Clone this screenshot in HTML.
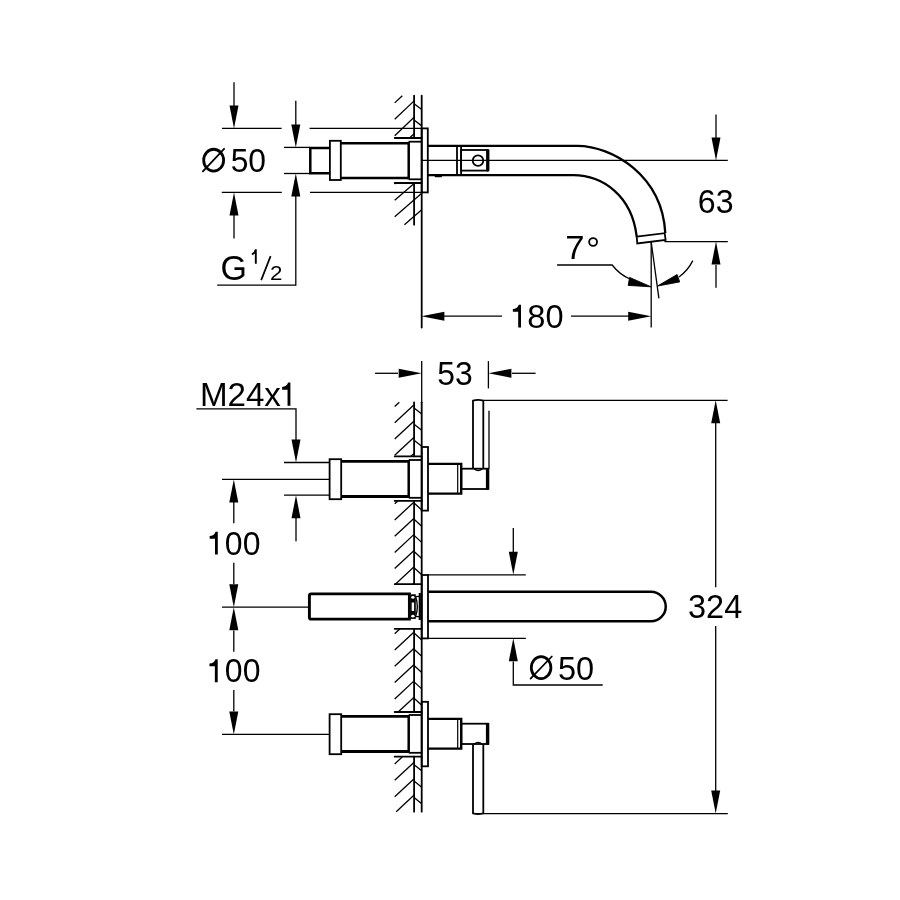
<!DOCTYPE html>
<html><head><meta charset="utf-8"><style>
html,body{margin:0;padding:0;background:#fff;}
svg{display:block;will-change:transform;}
text{font-family:"Liberation Sans",sans-serif;fill:#000;stroke:none;}
</style></head><body>
<svg width="900" height="900" viewBox="0 0 900 900" stroke="#000" stroke-linejoin="miter">
<rect x="0" y="0" width="900" height="900" fill="#fff" stroke="none"/>
<g>
<line x1="414.1" y1="95.7" x2="414.1" y2="138" stroke-width="1.8" stroke-linecap="round"/>
<line x1="414.1" y1="183" x2="414.1" y2="224.7" stroke-width="1.8" stroke-linecap="round"/>
<line x1="421.7" y1="95.7" x2="421.7" y2="327.6" stroke-width="1.8" stroke-linecap="round"/>
<line x1="394.7" y1="138" x2="421.7" y2="138" stroke-width="1.8" stroke-linecap="round"/>
<line x1="394.7" y1="183" x2="421.7" y2="183" stroke-width="1.8" stroke-linecap="round"/>
<line x1="394.7" y1="102.9" x2="402.28" y2="95.7" stroke-width="1.3" stroke-linecap="butt"/>
<line x1="394.7" y1="119.3" x2="414.1" y2="100.87" stroke-width="1.3" stroke-linecap="butt"/>
<line x1="414.1" y1="103.67" x2="421.7" y2="109.47" stroke-width="1.3" stroke-linecap="butt"/>
<line x1="394.7" y1="135.7" x2="414.1" y2="117.27" stroke-width="1.3" stroke-linecap="butt"/>
<line x1="414.1" y1="120.07" x2="421.7" y2="125.87" stroke-width="1.3" stroke-linecap="butt"/>
<line x1="409.54" y1="138.0" x2="414.1" y2="133.67" stroke-width="1.3" stroke-linecap="butt"/>
<line x1="394.7" y1="183.9" x2="395.74" y2="183.0" stroke-width="1.3" stroke-linecap="butt"/>
<line x1="394.7" y1="200.3" x2="414.7" y2="183.0" stroke-width="1.3" stroke-linecap="butt"/>
<line x1="394.7" y1="216.7" x2="421.7" y2="193.35" stroke-width="1.3" stroke-linecap="butt"/>
<line x1="404.41" y1="224.7" x2="421.7" y2="209.75" stroke-width="1.3" stroke-linecap="butt"/>
<rect x="421.7" y="128.4" width="6.100000000000023" height="64.0" stroke-width="1.8" fill="none"/>
<line x1="222" y1="128.4" x2="281.6" y2="128.4" stroke-width="1.3" stroke-linecap="butt"/>
<line x1="309.6" y1="128.4" x2="421.7" y2="128.4" stroke-width="1.3" stroke-linecap="butt"/>
<line x1="221.8" y1="192.4" x2="281.8" y2="192.4" stroke-width="1.3" stroke-linecap="butt"/>
<line x1="310" y1="192.4" x2="421.7" y2="192.4" stroke-width="1.3" stroke-linecap="butt"/>
<line x1="284" y1="147.4" x2="310" y2="147.4" stroke-width="1.3" stroke-linecap="butt"/>
<line x1="284" y1="173.5" x2="310" y2="173.5" stroke-width="1.3" stroke-linecap="butt"/>
<line x1="234" y1="82.3" x2="234" y2="106" stroke-width="1.3" stroke-linecap="butt"/>
<polygon points="234,128.4 229.5,105.4 238.5,105.4" stroke="none" fill="#000"/>
<line x1="234" y1="215" x2="234" y2="238.6" stroke-width="1.3" stroke-linecap="butt"/>
<polygon points="234,192.4 229.5,215.4 238.5,215.4" stroke="none" fill="#000"/>
<line x1="295.8" y1="100.7" x2="295.8" y2="125" stroke-width="1.3" stroke-linecap="butt"/>
<polygon points="295.8,147.4 291.3,124.4 300.3,124.4" stroke="none" fill="#000"/>
<path d="M295.8,196 V285.2 H217.2" stroke-width="1.3" fill="none" />
<polygon points="295.8,173.5 291.3,196.5 300.3,196.5" stroke="none" fill="#000"/>
<path d="M329.9,147.9 H310.3 V173.3 H329.9" stroke-width="2.5" fill="none" stroke-linejoin="miter"/>
<rect x="329.9" y="140.8" width="10.900000000000034" height="39.19999999999999" stroke-width="1.8" fill="none"/>
<line x1="340.8" y1="143.3" x2="408.7" y2="143.3" stroke-width="2.5" stroke-linecap="butt"/>
<line x1="340.8" y1="178" x2="408.7" y2="178" stroke-width="2.5" stroke-linecap="butt"/>
<line x1="408.7" y1="141.7" x2="408.7" y2="179.3" stroke-width="2.5" stroke-linecap="butt"/>
<line x1="408.7" y1="141.7" x2="421.7" y2="141.7" stroke-width="1.8" stroke-linecap="butt"/>
<line x1="408.7" y1="179.3" x2="421.7" y2="179.3" stroke-width="1.8" stroke-linecap="butt"/>
<path d="M427.8,145.9 H577.3 C612,146 662,175 665.3,233" stroke-width="2.3" fill="none" />
<path d="M427.8,175.1 H573.3 C602,175.2 632,195 636.7,236.7" stroke-width="2.3" fill="none" />
<line x1="422" y1="160.4" x2="727.8" y2="160.4" stroke-width="1.3" stroke-linecap="butt"/>
<rect x="434.6" y="175.4" width="7.4" height="1.8" rx="0.9" fill="#000" stroke="none"/>
<line x1="457" y1="146" x2="457" y2="175.2" stroke-width="1.8" stroke-linecap="butt"/>
<line x1="461.1" y1="146" x2="461.1" y2="175.2" stroke-width="1.8" stroke-linecap="butt"/>
<rect x="461.1" y="150" width="26.299999999999955" height="20.599999999999994" stroke-width="1.8" fill="none"/>
<rect x="486.2" y="149.2" width="3.2" height="22.2" rx="0.8" fill="#000" stroke="none"/>
<circle cx="478" cy="160.6" r="5.3" stroke-width="1.8" fill="none"/>
<path d="M636.7,236.7 L664.7,233.2 L665.6,240 L637.3,243.5 Z" stroke-width="1.8" fill="none" />
<line x1="716" y1="114.4" x2="716" y2="138" stroke-width="1.3" stroke-linecap="butt"/>
<polygon points="716,160.4 711.5,137.4 720.5,137.4" stroke="none" fill="#000"/>
<line x1="664.4" y1="241.6" x2="727.8" y2="241.6" stroke-width="1.3" stroke-linecap="butt"/>
<line x1="716" y1="265" x2="716" y2="287.8" stroke-width="1.3" stroke-linecap="butt"/>
<polygon points="716,241.6 711.5,264.6 720.5,264.6" stroke="none" fill="#000"/>
<line x1="651.2" y1="242" x2="651.2" y2="327.6" stroke-width="1.3" stroke-linecap="butt"/>
<line x1="651.2" y1="242" x2="658.9" y2="298.3" stroke-width="1.3" stroke-linecap="butt"/>
<path d="M557.1,265 H612.2 A45,45 0 0 0 630,279" stroke-width="1.3" fill="none" />
<polygon points="651,286.8 629.6,277.4 628.2,285.4" stroke-width="0.9" stroke-linejoin="round" fill="#000"/>
<path d="M692.8,260.6 A45,45 0 0 1 679,277" stroke-width="1.3" fill="none" />
<polygon points="657.4,286.1 677.1,274.5 679.7,281.9" stroke-width="0.9" stroke-linejoin="round" fill="#000"/>
<circle cx="593.1" cy="242" r="3.95" stroke-width="1.8" fill="none"/>
<line x1="444" y1="316.2" x2="502" y2="316.2" stroke-width="1.3" stroke-linecap="butt"/>
<polygon points="421.4,316.2 444.4,311.7 444.4,320.7" stroke="none" fill="#000"/>
<line x1="571" y1="316.2" x2="629" y2="316.2" stroke-width="1.3" stroke-linecap="butt"/>
<polygon points="651.2,316.2 628.2,311.7 628.2,320.7" stroke="none" fill="#000"/>
<line x1="261.2" y1="280.1" x2="270.6" y2="256.1" stroke-width="1.7" stroke-linecap="butt"/>
<line x1="414.1" y1="402.3" x2="414.1" y2="456.3" stroke-width="1.8" stroke-linecap="round"/>
<line x1="414.1" y1="500.9" x2="414.1" y2="584.2" stroke-width="1.8" stroke-linecap="round"/>
<line x1="414.1" y1="628.8" x2="414.1" y2="712" stroke-width="1.8" stroke-linecap="round"/>
<line x1="414.1" y1="756.7" x2="414.1" y2="811.7" stroke-width="1.8" stroke-linecap="round"/>
<line x1="421.7" y1="361.1" x2="421.7" y2="402.3" stroke-width="1.3" stroke-linecap="butt"/>
<line x1="421.7" y1="402.3" x2="421.7" y2="811.7" stroke-width="1.8" stroke-linecap="round"/>
<line x1="394.7" y1="456.3" x2="421.7" y2="456.3" stroke-width="1.8" stroke-linecap="round"/>
<line x1="394.7" y1="500.9" x2="421.7" y2="500.9" stroke-width="1.8" stroke-linecap="round"/>
<line x1="394.7" y1="584.2" x2="421.7" y2="584.2" stroke-width="1.8" stroke-linecap="round"/>
<line x1="394.7" y1="628.8" x2="421.7" y2="628.8" stroke-width="1.8" stroke-linecap="round"/>
<line x1="394.7" y1="712" x2="421.7" y2="712" stroke-width="1.8" stroke-linecap="round"/>
<line x1="394.7" y1="756.7" x2="421.7" y2="756.7" stroke-width="1.8" stroke-linecap="round"/>
<line x1="394.7" y1="406.6" x2="399.32" y2="402.3" stroke-width="1.3" stroke-linecap="butt"/>
<line x1="394.7" y1="422.8" x2="414.1" y2="404.76" stroke-width="1.3" stroke-linecap="butt"/>
<line x1="414.1" y1="407.96" x2="421.7" y2="413.96" stroke-width="1.3" stroke-linecap="butt"/>
<line x1="394.7" y1="439.0" x2="414.1" y2="420.96" stroke-width="1.3" stroke-linecap="butt"/>
<line x1="414.1" y1="424.16" x2="421.7" y2="430.16" stroke-width="1.3" stroke-linecap="butt"/>
<line x1="394.7" y1="455.2" x2="414.1" y2="437.16" stroke-width="1.3" stroke-linecap="butt"/>
<line x1="414.1" y1="440.36" x2="421.7" y2="446.36" stroke-width="1.3" stroke-linecap="butt"/>
<line x1="410.94" y1="456.3" x2="414.1" y2="453.36" stroke-width="1.3" stroke-linecap="butt"/>
<line x1="394.7" y1="503.8" x2="397.82" y2="500.9" stroke-width="1.3" stroke-linecap="butt"/>
<line x1="394.7" y1="520.0" x2="414.1" y2="501.96" stroke-width="1.3" stroke-linecap="butt"/>
<line x1="414.1" y1="502.96" x2="421.7" y2="509.96" stroke-width="1.3" stroke-linecap="butt"/>
<line x1="394.7" y1="536.2" x2="414.1" y2="518.16" stroke-width="1.3" stroke-linecap="butt"/>
<line x1="414.1" y1="519.16" x2="421.7" y2="526.16" stroke-width="1.3" stroke-linecap="butt"/>
<line x1="394.7" y1="552.4" x2="414.1" y2="534.36" stroke-width="1.3" stroke-linecap="butt"/>
<line x1="414.1" y1="535.36" x2="421.7" y2="542.36" stroke-width="1.3" stroke-linecap="butt"/>
<line x1="394.7" y1="568.6" x2="414.1" y2="550.56" stroke-width="1.3" stroke-linecap="butt"/>
<line x1="414.1" y1="551.56" x2="421.7" y2="558.56" stroke-width="1.3" stroke-linecap="butt"/>
<line x1="395.35" y1="584.2" x2="414.1" y2="566.76" stroke-width="1.3" stroke-linecap="butt"/>
<line x1="414.1" y1="567.76" x2="421.7" y2="574.76" stroke-width="1.3" stroke-linecap="butt"/>
<line x1="412.76" y1="584.2" x2="414.1" y2="582.96" stroke-width="1.3" stroke-linecap="butt"/>
<line x1="394.7" y1="633.7" x2="399.97" y2="628.8" stroke-width="1.3" stroke-linecap="butt"/>
<line x1="394.7" y1="650.0" x2="414.1" y2="631.96" stroke-width="1.3" stroke-linecap="butt"/>
<line x1="414.1" y1="632.96" x2="421.7" y2="639.96" stroke-width="1.3" stroke-linecap="butt"/>
<line x1="394.7" y1="666.3" x2="414.1" y2="648.26" stroke-width="1.3" stroke-linecap="butt"/>
<line x1="414.1" y1="649.26" x2="421.7" y2="656.26" stroke-width="1.3" stroke-linecap="butt"/>
<line x1="394.7" y1="682.6" x2="414.1" y2="664.56" stroke-width="1.3" stroke-linecap="butt"/>
<line x1="414.1" y1="665.56" x2="421.7" y2="672.56" stroke-width="1.3" stroke-linecap="butt"/>
<line x1="394.7" y1="698.9" x2="414.1" y2="680.86" stroke-width="1.3" stroke-linecap="butt"/>
<line x1="414.1" y1="681.86" x2="421.7" y2="688.86" stroke-width="1.3" stroke-linecap="butt"/>
<line x1="398.14" y1="712.0" x2="414.1" y2="697.16" stroke-width="1.3" stroke-linecap="butt"/>
<line x1="414.1" y1="698.16" x2="421.7" y2="705.16" stroke-width="1.3" stroke-linecap="butt"/>
<line x1="394.7" y1="763.9" x2="402.44" y2="756.7" stroke-width="1.3" stroke-linecap="butt"/>
<line x1="394.7" y1="780.3" x2="414.1" y2="762.26" stroke-width="1.3" stroke-linecap="butt"/>
<line x1="414.1" y1="764.66" x2="421.7" y2="770.86" stroke-width="1.3" stroke-linecap="butt"/>
<line x1="394.7" y1="796.7" x2="414.1" y2="778.66" stroke-width="1.3" stroke-linecap="butt"/>
<line x1="414.1" y1="781.06" x2="421.7" y2="787.26" stroke-width="1.3" stroke-linecap="butt"/>
<line x1="396.21" y1="811.7" x2="414.1" y2="795.06" stroke-width="1.3" stroke-linecap="butt"/>
<line x1="414.1" y1="797.46" x2="421.7" y2="803.66" stroke-width="1.3" stroke-linecap="butt"/>
<line x1="375.1" y1="373.3" x2="398" y2="373.3" stroke-width="1.3" stroke-linecap="butt"/>
<polygon points="421.7,373.3 398.7,368.8 398.7,377.8" stroke="none" fill="#000"/>
<line x1="488.4" y1="361.1" x2="488.4" y2="388.4" stroke-width="1.3" stroke-linecap="butt"/>
<line x1="512" y1="373.3" x2="535.6" y2="373.3" stroke-width="1.3" stroke-linecap="butt"/>
<polygon points="488.4,373.3 511.4,368.8 511.4,377.8" stroke="none" fill="#000"/>
<path d="M196.4,408.8 H296 V440" stroke-width="1.3" fill="none" />
<polygon points="296,462.5 291.5,439.5 300.5,439.5" stroke="none" fill="#000"/>
<line x1="296" y1="518" x2="296" y2="541.2" stroke-width="1.3" stroke-linecap="butt"/>
<polygon points="296,495.2 291.5,518.2 300.5,518.2" stroke="none" fill="#000"/>
<line x1="284" y1="462.5" x2="329.3" y2="462.5" stroke-width="1.3" stroke-linecap="butt"/>
<line x1="284" y1="495.2" x2="329.3" y2="495.2" stroke-width="1.3" stroke-linecap="butt"/>
<line x1="222" y1="479.4" x2="329.3" y2="479.4" stroke-width="1.3" stroke-linecap="butt"/>
<line x1="233.8" y1="502" x2="233.8" y2="523.3" stroke-width="1.3" stroke-linecap="butt"/>
<polygon points="233.8,479.4 229.3,502.4 238.3,502.4" stroke="none" fill="#000"/>
<line x1="233.8" y1="562.8" x2="233.8" y2="584" stroke-width="1.3" stroke-linecap="butt"/>
<polygon points="233.8,607.2 229.3,584.2 238.3,584.2" stroke="none" fill="#000"/>
<line x1="233.8" y1="630.5" x2="233.8" y2="651.7" stroke-width="1.3" stroke-linecap="butt"/>
<polygon points="233.8,607.2 229.3,630.2 238.3,630.2" stroke="none" fill="#000"/>
<line x1="233.8" y1="690" x2="233.8" y2="711.5" stroke-width="1.3" stroke-linecap="butt"/>
<polygon points="233.8,734.4 229.3,711.4 238.3,711.4" stroke="none" fill="#000"/>
<line x1="222" y1="607.2" x2="309.4" y2="607.2" stroke-width="1.3" stroke-linecap="butt"/>
<line x1="222" y1="734.4" x2="328.9" y2="734.4" stroke-width="1.3" stroke-linecap="butt"/>
<rect x="329.6" y="459.2" width="11.599999999999966" height="40.0" stroke-width="1.8" fill="none"/>
<line x1="341.2" y1="461.29999999999995" x2="408.7" y2="461.29999999999995" stroke-width="2.8" stroke-linecap="butt"/>
<line x1="341.2" y1="496.5" x2="408.7" y2="496.5" stroke-width="2.8" stroke-linecap="butt"/>
<line x1="408.7" y1="460.0" x2="408.7" y2="497.79999999999995" stroke-width="2.5" stroke-linecap="butt"/>
<line x1="408.7" y1="460.0" x2="421.7" y2="460.0" stroke-width="1.8" stroke-linecap="butt"/>
<line x1="408.7" y1="497.79999999999995" x2="421.7" y2="497.79999999999995" stroke-width="1.8" stroke-linecap="butt"/>
<path d="M428,463.90 H461.2 V493.60 H428" stroke-width="2.4" fill="none" />
<line x1="457.7" y1="463.9" x2="457.7" y2="493.59999999999997" stroke-width="1.2" stroke-linecap="butt"/>
<rect x="461.3" y="468.7" width="26.69999999999999" height="20.30000000000001" stroke-width="1.8" fill="none"/>
<rect x="485.9" y="468.09999999999997" width="3.4" height="21.5" fill="#000" stroke="none"/>
<rect x="329.6" y="714.1999999999999" width="11.599999999999966" height="40.0" stroke-width="1.8" fill="none"/>
<line x1="341.2" y1="716.3" x2="408.7" y2="716.3" stroke-width="2.8" stroke-linecap="butt"/>
<line x1="341.2" y1="751.5" x2="408.7" y2="751.5" stroke-width="2.8" stroke-linecap="butt"/>
<line x1="408.7" y1="715.0" x2="408.7" y2="752.8" stroke-width="2.5" stroke-linecap="butt"/>
<line x1="408.7" y1="715.0" x2="421.7" y2="715.0" stroke-width="1.8" stroke-linecap="butt"/>
<line x1="408.7" y1="752.8" x2="421.7" y2="752.8" stroke-width="1.8" stroke-linecap="butt"/>
<path d="M428,718.90 H461.2 V748.60 H428" stroke-width="2.4" fill="none" />
<line x1="457.7" y1="718.9" x2="457.7" y2="748.6" stroke-width="1.2" stroke-linecap="butt"/>
<rect x="461.3" y="723.6999999999999" width="26.69999999999999" height="20.300000000000068" stroke-width="1.8" fill="none"/>
<rect x="485.9" y="723.1" width="3.4" height="21.5" fill="#000" stroke="none"/>
<rect x="421.7" y="447" width="6.300000000000011" height="63.60000000000002" stroke-width="1.8" fill="none"/>
<rect x="421.7" y="575" width="6.300000000000011" height="63.39999999999998" stroke-width="1.8" fill="none"/>
<rect x="421.7" y="701.8" width="6.300000000000011" height="64.5" stroke-width="1.8" fill="none"/>
<path d="M473,468.7 V400.6 Q478,399.2 483.3,400.6 V468.7" stroke-width="1.8" fill="none" />
<path d="M474.2,469 Q478.2,472.2 482.2,469" stroke-width="1.3" fill="none" />
<line x1="489" y1="410.7" x2="489" y2="468.7" stroke-width="1.3" stroke-linecap="butt"/>
<line x1="483.3" y1="400.3" x2="727.6" y2="400.3" stroke-width="1.3" stroke-linecap="butt"/>
<path d="M473,744.2 V813.3 Q478,814.7 483.3,813.3 V744.2" stroke-width="1.8" fill="none" />
<path d="M474.2,743.9 Q478.2,740.7 482.2,743.9" stroke-width="1.3" fill="none" />
<line x1="483.3" y1="813.6" x2="727.8" y2="813.6" stroke-width="1.3" stroke-linecap="butt"/>
<path d="M409.4,593.9 H311.2 Q309.4,593.9 309.4,595.9 V617.2 Q309.4,619.1 311.2,619.1 H409.4 Z" stroke-width="2.9" fill="none" />
<rect x="410.4" y="594.3" width="5.4" height="24.6" fill="#000" stroke="none"/>
<ellipse cx="412.9" cy="597.4" rx="1.7" ry="1.4" fill="#fff" stroke="none"/>
<ellipse cx="412.9" cy="616.2" rx="1.7" ry="1.4" fill="#fff" stroke="none"/>
<rect x="411.7" y="602.5" width="2.4" height="8.5" fill="#fff" stroke="none"/>
<path d="M415.6,596.5 Q419,606.6 415.6,616.6" stroke-width="1.4" fill="none" />
<line x1="415.6" y1="596.5" x2="419.8" y2="596.5" stroke-width="1.3" stroke-linecap="butt"/>
<line x1="415.6" y1="616.6" x2="419.8" y2="616.6" stroke-width="1.3" stroke-linecap="butt"/>
<line x1="419.8" y1="593" x2="419.8" y2="620" stroke-width="2.2" stroke-linecap="butt"/>
<path d="M428,591.8 H651 A14.75,14.75 0 0 1 651,621.3 H428" stroke-width="2.5" fill="none" />
<line x1="428" y1="574.8" x2="525.8" y2="574.8" stroke-width="1.3" stroke-linecap="butt"/>
<line x1="428" y1="638.3" x2="525.8" y2="638.3" stroke-width="1.3" stroke-linecap="butt"/>
<line x1="513.3" y1="528" x2="513.3" y2="552.5" stroke-width="1.3" stroke-linecap="butt"/>
<polygon points="513.3,574.8 508.79999999999995,551.8 517.8,551.8" stroke="none" fill="#000"/>
<path d="M513.3,661.5 V685 H602.7" stroke-width="1.3" fill="none" />
<polygon points="513.3,638.3 508.79999999999995,661.3 517.8,661.3" stroke="none" fill="#000"/>
<line x1="715.7" y1="422" x2="715.7" y2="587.3" stroke-width="1.3" stroke-linecap="butt"/>
<polygon points="715.7,400.3 711.2,423.3 720.2,423.3" stroke="none" fill="#000"/>
<line x1="715.7" y1="626" x2="715.7" y2="791" stroke-width="1.3" stroke-linecap="butt"/>
<polygon points="715.7,813.6 711.2,790.6 720.2,790.6" stroke="none" fill="#000"/>
<text transform="translate(527.30,327.67) scale(0.9912,1)" x="0" y="0" font-size="32.91">80</text>
<path d="M521.00,327.50 h-2.81 v-15.87 h-5.32 v-2.71 c2.91,0.00 4.82,-1.10 5.93,-4.22 L521.00,304.70 Z" fill="#000" stroke="none"/>
<text transform="translate(697.86,212.97) scale(0.9687,1)" x="0" y="0" font-size="33.19">63</text>
<text transform="translate(437.32,385.27) scale(0.9532,1)" x="0" y="0" font-size="33.47">53</text>
<text transform="translate(224.85,554.67) scale(0.9811,1)" x="0" y="0" font-size="32.63">00</text>
<path d="M217.80,554.60 h-2.81 v-15.87 h-5.32 v-2.71 c2.91,0.00 4.82,-1.10 5.93,-4.22 L217.80,531.80 Z" fill="#000" stroke="none"/>
<text transform="translate(224.85,682.27) scale(0.9644,1)" x="0" y="0" font-size="33.19">00</text>
<path d="M217.70,682.30 h-2.85 v-16.08 h-5.39 v-2.75 c2.95,0.00 4.88,-1.12 6.00,-4.27 L217.70,659.20 Z" fill="#000" stroke="none"/>
<text transform="translate(688.07,618.37) scale(0.9827,1)" x="0" y="0" font-size="33.05">324</text>
<text transform="translate(230.63,172.07) scale(0.9595,1)" x="0" y="0" font-size="33.19">50</text>
<ellipse cx="213.65" cy="160.15" rx="9.95" ry="10.9" stroke-width="2.8" fill="none"/>
<line x1="202.9" y1="171.3" x2="224.1" y2="148.8" stroke-width="1.8" stroke-linecap="round"/>
<text transform="translate(199.88,405.80) scale(0.9978,1)" x="0" y="0" font-size="33.24">M24x</text>
<path d="M290.40,405.80 h-2.86 v-16.15 h-5.42 v-2.76 c2.96,0.00 4.91,-1.12 6.03,-4.29 L290.40,382.60 Z" fill="#000" stroke="none"/>
<text transform="translate(220.40,280.25) scale(0.9667,1)" x="0" y="0" font-size="35.17">G</text>
<path d="M251.9,254.3 C253.9,253.6 255.3,252.2 255.8,249.3 V263.7" stroke-width="1.9" fill="none" />
<text transform="translate(269.88,279.70) scale(1.0621,1)" x="0" y="0" font-size="21.06">2</text>
<text transform="translate(565.23,259.00) scale(1.0525,1)" x="0" y="0" font-size="32.99">7</text>
<ellipse cx="541.1" cy="667.65" rx="9.8" ry="10.95" stroke-width="2.8" fill="none"/>
<line x1="530.6" y1="678.6" x2="551.8" y2="656.5" stroke-width="1.8" stroke-linecap="round"/>
<text transform="translate(558.00,679.78) scale(1.0013,1)" x="0" y="0" font-size="32.49">50</text>
</g>
</svg>
</body></html>
